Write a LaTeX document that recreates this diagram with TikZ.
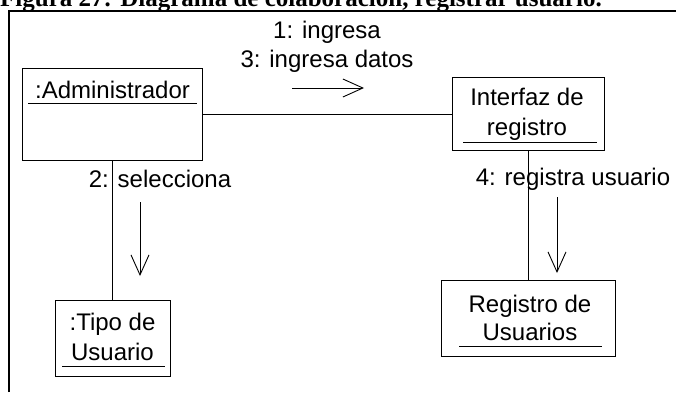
\documentclass[tikz,border=0pt]{standalone}
\usepackage{fontspec}
\setmainfont{Liberation Sans}
\newfontfamily\titlefont{Liberation Serif}
\usetikzlibrary{arrows.meta}
\begin{document}
\begin{tikzpicture}[x=1pt,y=-1pt,
  objbox/.style={draw,line width=1pt,rectangle,inner sep=0pt},
  txt/.style={inner sep=0pt,font=\fontsize{24}{30}\selectfont},
  uline/.style={line width=1pt},
  conn/.style={line width=1pt},
  msg/.style={line width=0.9pt,-{Straight Barb[length=20pt,width=18pt,line width=0.9pt]}}]
\useasboundingbox (0,0) rectangle (676,392);
% title (cut at top)
\node[anchor=base west,inner sep=0pt,font=\titlefont\bfseries\fontsize{25}{28}\selectfont] (title) at (0,6) {Figura 27: Diagrama de colaboración, registrar usuario.};
% frame
\draw[line width=1.6pt] (9,392) -- (9,11) -- (680,11);
% boxes
\node[objbox,minimum width=180pt,minimum height=92pt] (admin) at (112.5,114) {};
\node[objbox,minimum width=152pt,minimum height=73pt] (interfaz) at (528,114) {};
\node[objbox,minimum width=115pt,minimum height=76pt] (tipo) at (112.5,338) {};
\node[objbox,minimum width=174pt,minimum height=76pt] (registro) at (528,318) {};
% box texts
\node[txt,anchor=base] (tadmin) at (112.5,98) {:Administrador};
\draw[uline] (28,103) -- (197,103);
\node[txt,anchor=base] (tinter1) at (527,105) {Interfaz de};
\node[txt,anchor=base] (tinter2) at (527,135) {registro};
\draw[uline] (463,142) -- (597,142);
\node[txt,anchor=base] (ttipo1) at (112.5,330) {:Tipo de};
\node[txt,anchor=base] (ttipo2) at (112.5,360) {Usuario};
\draw[uline] (62,366) -- (165,366);
\node[txt,anchor=base] (treg1) at (530,312) {Registro de};
\node[txt,anchor=base] (treg2) at (530,340) {Usuarios};
\draw[uline] (459,346) -- (602,346);
% connectors
\draw[conn] (admin.east) -- (interfaz.west);
\draw[conn] (admin.south) -- (tipo.north);
\draw[conn] (interfaz.south) -- (registro.north);
% messages
\node[txt,anchor=base] (m1) at (327,38) {1: ingresa};
\node[txt,anchor=base] (m3) at (327,67) {3: ingresa datos};
\coordinate (a1s) at (292,88);
\coordinate (a1e) at (364,88);
\draw[msg] (a1s) -- (a1e);
\node[txt,anchor=base] (m2) at (160,187) {2: selecciona};
\coordinate (a2s) at (140,202);
\coordinate (a2e) at (140,276);
\draw[msg] (a2s) -- (a2e);
\node[txt,anchor=base] (m4) at (573,185) {4: registra usuario};
\coordinate (a4s) at (557,197);
\coordinate (a4e) at (557,273);
\draw[msg] (a4s) -- (a4e);
\end{tikzpicture}
\end{document}
